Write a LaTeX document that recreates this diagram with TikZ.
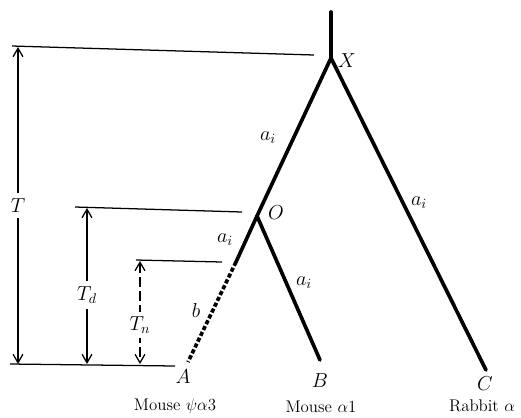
\documentclass[tikz,border=0pt]{standalone}
\usepackage{amsmath}
\usepackage{tikz}
\usetikzlibrary{arrows.meta, positioning}

\begin{document}
\begin{tikzpicture}[
  x=0.025cm, y=-0.025cm,
  branch/.style={line width=2.6pt, line cap=round},
  gene/.style={branch, dash pattern=on 3pt off 1.6pt, line cap=butt},
  level/.style={line width=0.9pt},
  span/.style={{Straight Barb[length=6pt,width=7pt]}-{Straight Barb[length=6pt,width=7pt]}, line width=0.9pt},
  tag/.style={font=\Large, inner sep=1pt},
  species/.style={font=\large}
]
\useasboundingbox (0,0) rectangle (521,417);

% tree
\coordinate (root) at (331,12);
\coordinate (X) at (331,58);
\coordinate (O) at (257,216);
\coordinate (dup) at (236,262);
\coordinate (A) at (188,362);
\coordinate (B) at (320,360);
\coordinate (C) at (486,370);

\draw[branch] (root) -- (X);
\draw[branch] (X) -- (C);
\draw[branch] (X) -- (O);
\draw[branch] (O) -- (B);
\draw[branch] (O) -- (dup);
\draw[gene] (dup) -- (A);

% time levels
\coordinate (lvlTa) at (12,46);   \coordinate (lvlTb) at (314,55);
\coordinate (lvlDa) at (75,207);  \coordinate (lvlDb) at (242,212);
\coordinate (lvlNa) at (136,260); \coordinate (lvlNb) at (222,262);
\coordinate (lvl0a) at (10,364);  \coordinate (lvl0b) at (175,366);

\draw[level] (lvlTa) -- (lvlTb);
\draw[level] (lvlDa) -- (lvlDb);
\draw[level] (lvlNa) -- (lvlNb);
\draw[level] (lvl0a) -- (lvl0b);

\coordinate (Ttop) at (18,47);   \coordinate (Tbot) at (18,364);
\coordinate (Dtop) at (87,208);  \coordinate (Dbot) at (87,364);
\coordinate (Ntop) at (140,261); \coordinate (Nbot) at (140,364);

\draw[span] (Ttop) -- node[fill=white, tag, inner sep=4pt]{$T$} (Tbot);
\draw[span] (Dtop) -- node[pos=0.56, fill=white, tag, inner sep=4pt]{$T_d$} (Dbot);
\draw[span, dash pattern=on 7pt off 3pt] (Ntop) -- node[pos=0.62, fill=white, tag, inner sep=3pt]{$T_n$} (Nbot);

% labels
\node[tag] (labX) at (347,61) {$X$};
\node[tag] (labO) at (276,213) {$O$};
\node[tag] (rateXO) at (268,138) {$a_i$};
\node[tag] (rateXC) at (419,203) {$a_i$};
\node[tag] (rateOA) at (225,240) {$a_i$};
\node[tag] (rateOB) at (304,283) {$a_i$};
\node[tag] (rateb) at (196,310) {$b$};
\node[tag] (labA) at (183,377) {$A$};
\node[tag] (labB) at (320,381) {$B$};
\node[tag] (labC) at (485,384) {$C$};

\node[species] (spA) at (175,406) {Mouse $\psi\alpha3$};
\node[species] (spB) at (321,407) {Mouse $\alpha1$};
\node[species, anchor=east] (spC) at (520,406) {Rabbit $\alpha$};
\end{tikzpicture}
\end{document}
